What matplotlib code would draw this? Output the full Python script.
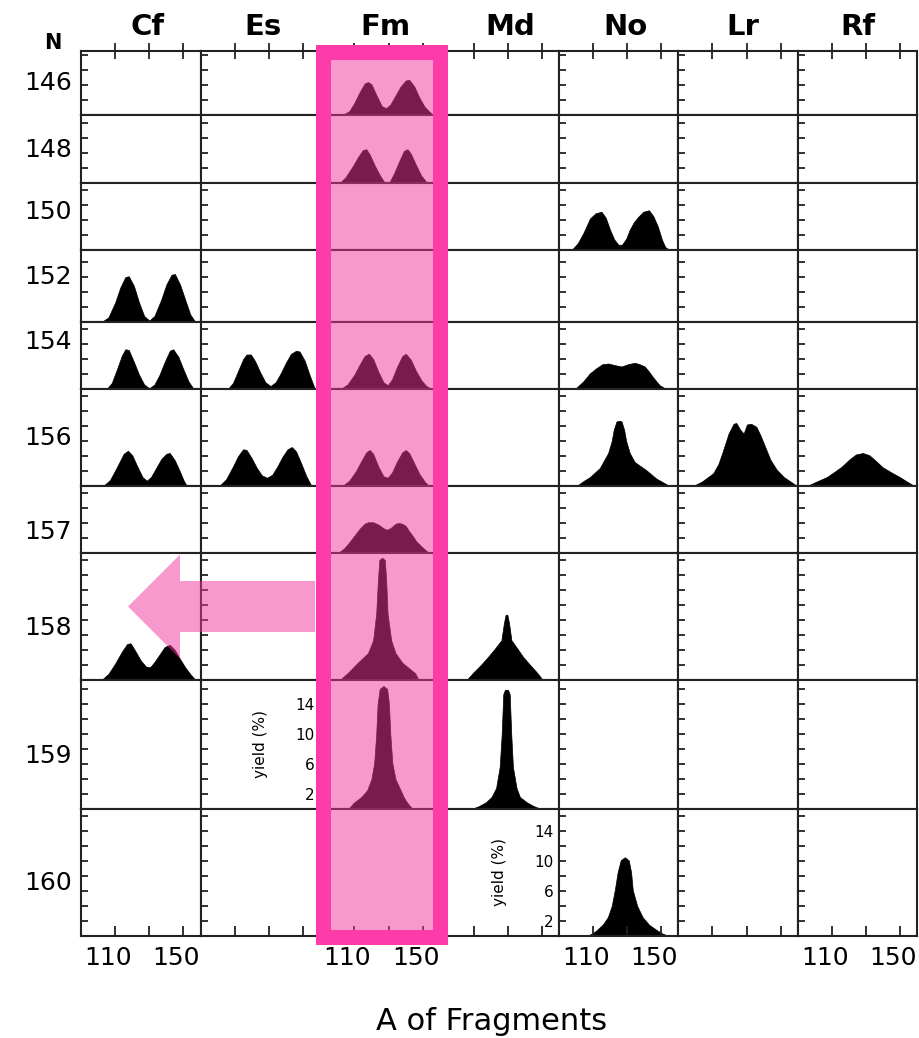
import matplotlib.pyplot as plt
from matplotlib.patches import Rectangle, FancyArrow
from matplotlib.transforms import ScaledTranslation

elements = ["Cf", "Es", "Fm", "Md", "No", "Lr", "Rf"]
neutrons = [146, 148, 150, 152, 154, 156, 157, 158, 159, 160]
mass_ticks = [110, 130, 150]
mass_labels = ["110", "", "150"]
yield_labels = ["2", "", "6", "", "10", "", "14", ""]

# fragment mass yields as (A, yield %) pairs
cf_152 = [(102, 0), (106, 0.6), (110, 2.6), (113, 4.6), (116, 6.0), (118, 6.1), (121, 4.8),
          (124, 2.6), (127, 0.8), (130, 0.2), (133, 0.8), (137, 3.0), (140, 5.0), (143, 6.3),
          (145, 6.4), (148, 5.0), (151, 3.0), (154, 1.0), (157, 0)]
cf_154 = [(105, 0), (108, 0.8), (111, 2.6), (114, 4.5), (116, 5.3), (118, 5.2), (121, 3.6),
          (124, 1.9), (127, 0.6), (130, 0.1), (133, 0.6), (136, 1.9), (139, 3.6), (142, 5.1),
          (144, 5.3), (147, 4.3), (150, 2.6), (153, 1.0), (156, 0)]
cf_156 = [(103, 0), (107, 0.8), (111, 2.5), (115, 4.3), (117.5, 4.7), (120, 4.1), (123, 2.6),
          (126, 1.2), (128.5, 0.7), (131, 1.2), (134, 2.4), (137, 3.6), (140, 4.3), (142, 4.4),
          (145, 3.4), (148, 1.9), (150, 0.8), (152, 0)]
cf_158 = [(102, 0), (106, 0.8), (110, 2.2), (114, 3.8), (117, 4.8), (119, 4.9), (122, 3.8),
          (125, 2.6), (128, 1.8), (130.5, 1.7), (133, 2.4), (136, 3.4), (139, 4.4), (142, 4.7),
          (145, 4.0), (148, 2.8), (151, 1.7), (154, 0.8), (157, 0)]
es_154 = [(106, 0), (109, 0.8), (112, 2.4), (115, 4.0), (117, 4.6), (119.5, 4.6), (122, 3.7),
          (125, 2.2), (128, 0.9), (131, 0.4), (134, 0.9), (137, 2.1), (140, 3.5), (143, 4.7),
          (146, 5.1), (148, 5.0), (151, 3.8), (154, 1.8), (157, 0)]
es_156 = [(101, 0), (105, 0.9), (109, 2.6), (112, 4.0), (115, 4.9), (117, 4.8), (120, 3.7),
          (123, 2.4), (126, 1.4), (129, 1.1), (132, 1.5), (135, 2.6), (138, 3.9), (141, 4.9),
          (143.5, 5.2), (146, 4.6), (149, 3.0), (152, 1.3), (155, 0)]
fm_146 = [(103, 0), (107, 0.5), (110, 1.6), (113, 3.0), (116, 4.2), (118, 4.4), (120, 4.1),
          (123, 2.6), (126, 1.2), (128.5, 0.9), (131, 1.4), (134, 2.6), (137, 3.8), (140, 4.6),
          (142, 4.7), (145, 3.8), (148, 2.3), (151, 1.1), (154, 0.4), (156, 0)]
fm_148 = [(101.5, 0), (105, 0.8), (109, 2.2), (112, 3.4), (115, 4.4), (117, 4.5), (119, 3.8),
          (122, 2.3), (125, 1.0), (127.5, 0.1), (130.5, 0.1), (133, 1.2), (136, 2.8), (139, 4.3),
          (141, 4.5), (143, 3.9), (146, 2.4), (149, 1.0), (152.5, 0)]
fm_154 = [(102, 0), (106, 0.6), (110, 1.9), (113, 3.2), (116, 4.4), (118.5, 4.7), (121, 4.0),
          (124, 2.3), (127, 0.9), (129.5, 0.5), (132, 1.3), (135, 3.0), (138, 4.4), (140, 4.7),
          (143, 3.9), (146, 2.4), (149, 1.2), (152, 0.4), (155, 0)]
fm_156 = [(103, 0), (107, 0.7), (111, 2.0), (114, 3.3), (117, 4.5), (119, 4.8), (121, 4.3),
          (124, 2.6), (127, 1.3), (129.5, 1.1), (132, 1.8), (135, 3.3), (138, 4.5), (140, 4.8),
          (142, 4.4), (145, 3.0), (148, 1.6), (151, 0.6), (153.5, 0)]
fm_157 = [(100.5, 0), (104, 0.6), (107, 1.4), (110, 2.3), (113, 3.2), (116, 3.9), (118, 4.1),
          (121, 4.1), (124, 3.8), (127, 3.3), (129, 3.1), (131, 3.3), (134, 3.9), (136, 4.0),
          (138, 3.9), (140, 3.6), (142, 2.9), (144, 2.3), (146, 1.6), (149, 0.9), (153.5, 0)]
fm_158 = [(101.5, 0), (106, 0.9), (112, 2.3), (118, 3.6), (121, 5.3), (122.8, 8.9), (123.8, 13.3),
          (124.6, 16.0), (126.2, 16.3), (127.8, 16.0), (128.6, 13.3), (129.4, 8.9), (131.5, 5.3),
          (134, 3.6), (138, 2.3), (145.5, 0.9), (147.5, 0)]
fm_159 = [(106.5, 0), (109.5, 0.8), (114, 1.6), (117.5, 2.5), (120, 4.0), (121.6, 6.1),
          (122.8, 10.0), (123.6, 14.0), (124.8, 16.0), (127, 16.4), (129.2, 16.0), (130.2, 14.0),
          (131.0, 10.0), (132.2, 6.1), (134, 4.0), (137, 2.5), (139, 1.5), (141, 0.8), (144, 0)]
md_158 = [(105.6, 0), (110, 1.1), (114, 2.0), (118.3, 3.1), (122, 4.1), (126.1, 5.3), (127.6, 7.6),
          (128.6, 8.7), (129.6, 8.7), (130.6, 7.6), (132, 5.3), (135.5, 4.2), (138.8, 3.1),
          (143, 2.0), (147, 1.0), (150.5, 0)]
md_159 = [(108.5, 0), (113, 0.4), (117, 0.9), (120.3, 1.6), (123, 2.8), (125.1, 5.6), (126.3, 10.0),
          (127.2, 15.3), (128.2, 15.9), (130, 15.9), (131, 15.3), (131.9, 10.0), (132.9, 5.6),
          (135, 2.8), (137, 1.6), (141, 0.9), (145, 0.4), (149.5, 0)]
no_150 = [(97.4, 0), (101, 0.9), (104.2, 2.2), (108.2, 4.2), (111.5, 4.9), (115, 5.1), (117.5, 4.3),
          (120, 2.7), (122.5, 1.4), (125, 0.7), (127, 0.7), (129.5, 1.5), (131.6, 2.7), (134, 3.7),
          (136.5, 4.4), (139.5, 5.1), (142.9, 5.3), (145.5, 4.5), (148.2, 3.1), (150.5, 1.4),
          (152.5, 0.4), (155, 0)]
no_154 = [(99.4, 0), (104.2, 1.0), (108.2, 2.1), (112.1, 2.8), (115.5, 3.3), (118.9, 3.4),
          (122.5, 3.2), (126.7, 3.0), (130.5, 3.3), (134.5, 3.5), (137.5, 3.3), (140.4, 3.0),
          (143, 2.3), (145.2, 1.6), (149.2, 0.5), (153.1, 0)]
no_156 = [(100.4, 0), (104, 0.6), (108.2, 1.2), (114, 2.4), (118.9, 4.4), (121, 6.0), (122.2, 7.5),
          (123.8, 8.6), (125.5, 8.7), (126.8, 8.6), (128.3, 7.5), (129.5, 6.0), (131.6, 4.4),
          (134.5, 3.2), (141.4, 2.1), (147.2, 1.0), (155, 0)]
no_160 = [(106.4, 0), (110, 0.4), (112.3, 0.8), (116, 1.6), (118.7, 2.5), (121, 4.0), (122.8, 6.1),
          (124.5, 8.5), (126.3, 10.1), (128.7, 10.5), (131, 10.1), (132.4, 8.5), (133.4, 6.1),
          (136, 4.0), (139.2, 2.5), (143, 1.5), (147.4, 0.8), (151, 0.3), (155, 0)]
lr_156 = [(98.8, 0), (104, 0.6), (110.5, 1.7), (113.5, 2.9), (115.8, 4.4), (119.5, 7.0), (122.4, 8.3),
          (124, 8.4), (126.3, 7.5), (128.3, 7.0), (130.2, 8.2), (132.6, 8.3), (135.7, 7.9),
          (138, 6.8), (143.9, 3.5), (147.5, 2.2), (151.7, 1.2), (159.5, 0)]
rf_156 = [(95.3, 0), (101, 0.6), (107, 1.2), (111.5, 1.9), (115.8, 2.6), (120, 3.5), (124, 4.2),
          (128.1, 4.4), (132, 4.1), (136, 3.3), (139.8, 2.5), (145, 1.8), (149.8, 1.2), (154, 0.6),
          (158.5, 0)]

yields = {
    ("Cf", 152): cf_152, ("Cf", 154): cf_154, ("Cf", 156): cf_156, ("Cf", 158): cf_158,
    ("Es", 154): es_154, ("Es", 156): es_156,
    ("Fm", 146): fm_146, ("Fm", 148): fm_148, ("Fm", 154): fm_154, ("Fm", 156): fm_156,
    ("Fm", 157): fm_157, ("Fm", 158): fm_158, ("Fm", 159): fm_159,
    ("Md", 158): md_158, ("Md", 159): md_159,
    ("No", 150): no_150, ("No", 154): no_154, ("No", 156): no_156, ("No", 160): no_160,
    ("Lr", 156): lr_156,
    ("Rf", 156): rf_156,
}
yield_axis_cells = [("Fm", 159), ("No", 160)]
labelled_cols = ["Cf", "Fm", "No", "Rf"]

# layout in pixels (y downwards)
W, H = 919, 1038
col_x = [81, 200.5, 320, 440, 559, 678, 798, 917]
row_y = [51, 115, 183, 250, 322, 389, 486, 553, 680, 809, 936]
head_x = [148, 263, 385, 510, 625, 743, 858]
label_y = [83, 150, 212, 277, 342, 438, 532, 628, 756, 883]
px_per_pct = 7.5
line_col = "#222222"
pink = (241 / 255, 55 / 255, 157 / 255)
border_pink = "#FD3BA9"

fig = plt.figure(figsize=(W / 100, H / 100), dpi=100)
inch = fig.dpi_scale_trans


def box(x0, x1, y0, y1):
    return [x0 / W, 1 - y1 / H, (x1 - x0) / W, (y1 - y0) / H]


shift = ScaledTranslation(-0.07, 0, inch)
last = len(neutrons) - 1

for i, n in enumerate(neutrons):
    y0, y1 = row_y[i], row_y[i + 1]
    ymax = (y1 - y0) / px_per_pct
    yt = list(range(2, int(ymax) + 1, 2))
    for j, el in enumerate(elements):
        ax = fig.add_axes(box(col_x[j], col_x[j + 1], y0, y1))
        ax.set_xlim(90, 160)
        ax.set_ylim(0, ymax)
        ax.set_xticks(mass_ticks)
        ax.set_xticklabels([])
        ax.set_yticks(yt)
        ax.set_yticklabels([])
        ax.tick_params(axis="y", left=True, right=False, direction="in", length=5,
                       width=1.3, color=line_col, labelsize=11, pad=4)
        if i == 0:
            ax.tick_params(axis="x", bottom=False, top=True, direction="inout",
                           length=11, width=1.3, color=line_col)
        elif i == last:
            ax.tick_params(axis="x", bottom=True, top=False, direction="in",
                           length=7, width=1.3, color=line_col, labelsize=18, pad=7)
        else:
            ax.tick_params(axis="x", bottom=False, top=False)
        for s in ax.spines.values():
            s.set_linewidth(1.5)
            s.set_color(line_col)

        if (el, n) in yields:
            a, y = zip(*yields[(el, n)])
            ax.fill_between(a, y, color="black", lw=0.5)

        if (el, n) in yield_axis_cells:
            ax.set_yticklabels(yield_labels[:len(yt)])
            ax.set_ylabel("yield (%)", fontsize=11)
            ax.yaxis.set_label_coords(-0.435, 0.5)

        if i == last and el in labelled_cols:
            ax.set_xticklabels(mass_labels)
            for t in ax.get_xticklabels():
                t.set_transform(t.get_transform() + shift)

# headers and row labels
for el, x in zip(elements, head_x):
    fig.text(x / W, 1 - 27 / H, el, ha="center", va="center", fontsize=21, fontweight="bold")
for n, y in zip(neutrons, label_y):
    fig.text(72 / W, 1 - y / H, str(n), ha="right", va="center", fontsize=18)
fig.text(53 / W, 1 - 43 / H, "N", ha="center", va="center", fontsize=15, fontweight="bold")
fig.text(492 / W, 1 - 1022 / H, "A of Fragments", ha="center", va="center", fontsize=22)

# Fm column highlight and arrow
fig.add_artist(Rectangle((3.20, (H - 936) / 100), 1.20, 8.85, transform=inch,
                         facecolor=pink, alpha=0.51, lw=0, zorder=5))
fig.add_artist(Rectangle((3.225, (H - 937) / 100), 1.175, 8.85, transform=inch,
                         fill=False, edgecolor=border_pink, lw=10.8, zorder=6))
fig.add_artist(FancyArrow(3.15, (H - 606.5) / 100, -1.87, 0, width=0.51, head_width=1.04,
                          head_length=0.52, length_includes_head=True, transform=inch,
                          facecolor=pink, alpha=0.51, lw=0, zorder=5))

fig.savefig("out.png", dpi=100)
